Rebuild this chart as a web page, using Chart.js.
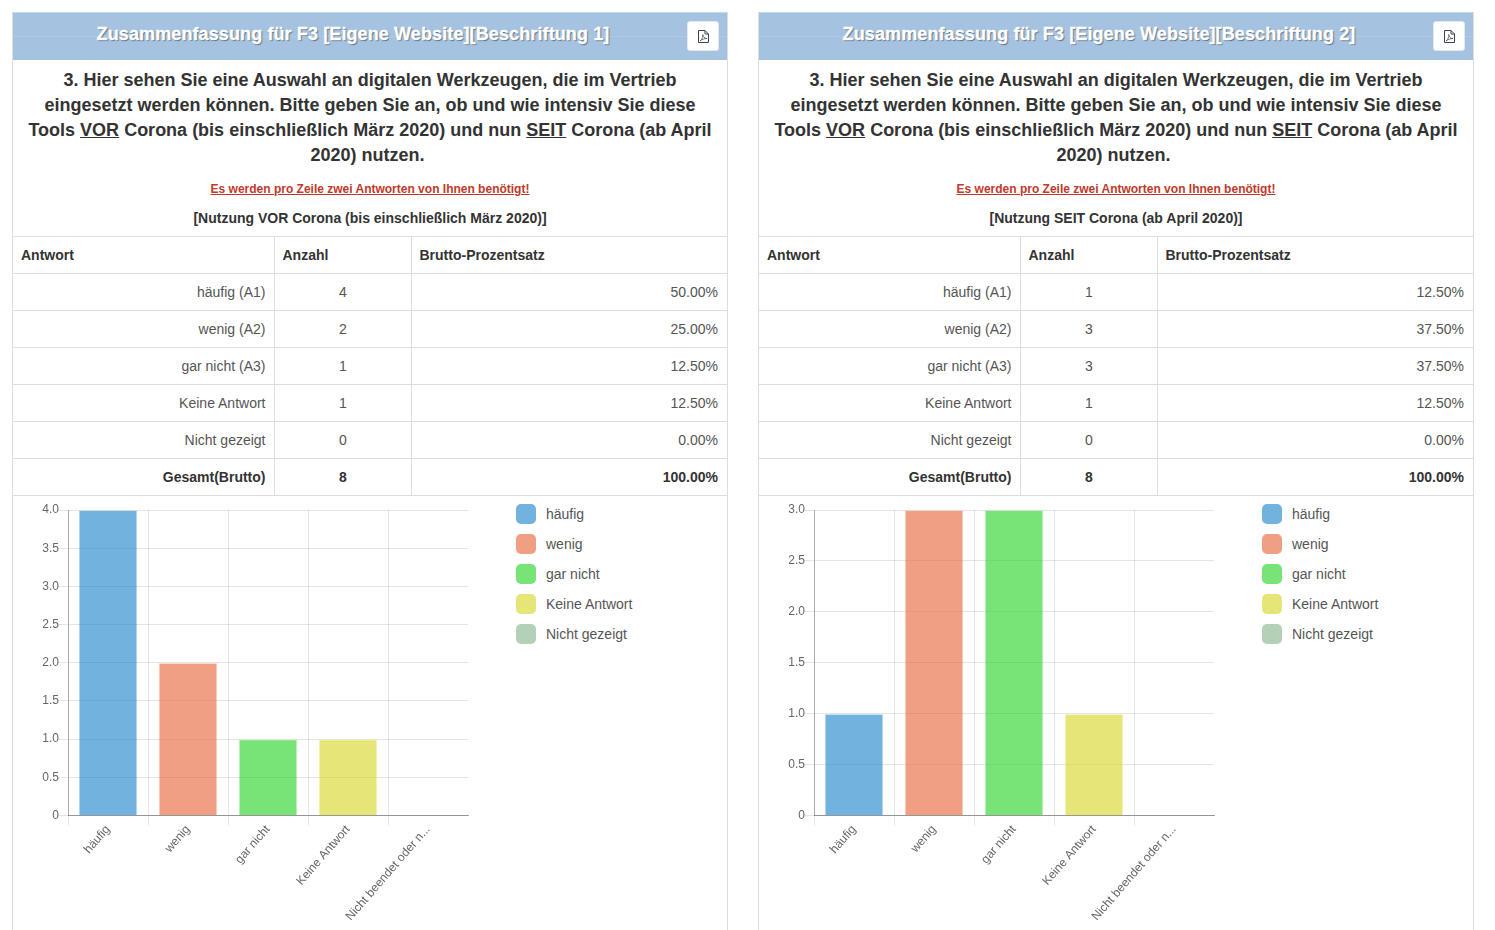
<!DOCTYPE html>
<html lang="de"><head><meta charset="utf-8"><title>Zusammenfassung F3</title>
<script src="https://cdn.jsdelivr.net/npm/chart.js@4"></script>
<style>
html,body{margin:0;padding:0;background:#fff;overflow:hidden;width:1495px;height:930px;font-family:"Liberation Sans",Arial,sans-serif;color:#333}
.panel{position:absolute;top:12px;width:714px;height:930px;border:1px solid #ddd;border-top:1px solid #c9d6e6;box-sizing:content-box}
.head{position:absolute;left:0;top:0;width:714px;height:47px;background:#a5c2e1}
.head em{position:absolute;left:0;width:680px;top:0;text-align:center;font-style:normal;color:#fff;font-size:18px;font-weight:bold;line-height:42px;letter-spacing:.11px;-webkit-text-stroke:.3px #fff;text-shadow:1px 1px 1px rgba(0,0,0,.45)}
.head i{position:absolute;left:0;right:0;top:23px;height:1px;background:rgba(255,255,255,.12)}
.btn{position:absolute;left:674px;top:8px;width:32px;height:30px;background:#fff;border:1px solid #e4e8ec;box-sizing:border-box;border-radius:3px}
.btn svg{position:absolute;left:10px;top:8px}
.q{position:absolute;left:10px;width:694px;top:55px;text-align:center;font-size:18px;font-weight:bold;line-height:25px;color:#333}
.req{position:absolute;left:0;width:714px;top:169px;text-align:center;font-size:12px;font-weight:bold;color:#c0392b;text-decoration:underline;line-height:14px}
.sub{position:absolute;left:0;width:714px;top:197px;text-align:center;font-size:14px;font-weight:bold;color:#333;line-height:16px}
table{position:absolute;left:0;top:223px;width:715px;border-collapse:collapse;table-layout:fixed;font-size:14px;color:#555}
td,th{height:37px;padding:0 10px 0 8px;box-sizing:border-box;border:1px solid #ddd;line-height:16px}
tr>*:first-child{border-left:0}tr>*:last-child{border-right:0}
th{text-align:left;color:#333}
td:nth-child(1){text-align:right;padding-right:8px}td:nth-child(2){text-align:center;padding:0 8px 0 9px}td:nth-child(3){text-align:right}
tr.t td{font-weight:bold;color:#333}
.cw{position:absolute;left:0;top:484px;width:470px;height:434px}
.lg{position:absolute;left:503px;top:491px;font-size:14px;color:#555}
.lg div{position:relative;height:30px;line-height:20px;padding-left:30px;white-space:nowrap;top:0}
.lg b{position:absolute;left:0;top:0;width:20px;height:20px;border-radius:5px}
</style></head><body>
<script>
const titles = ["Zusammenfassung für F3 [Eigene Website][Beschriftung 1]","Zusammenfassung für F3 [Eigene Website][Beschriftung 2]"];
const subtitles = ["[Nutzung VOR Corona (bis einschließlich März 2020)]","[Nutzung SEIT Corona (ab April 2020)]"];
const questionHtml = '3. Hier sehen Sie eine Auswahl an digitalen Werkzeugen, die im Vertrieb eingesetzt werden können. Bitte geben Sie an, ob und wie intensiv Sie diese Tools <u>VOR</u> Corona (bis einschließlich März 2020) und nun <u>SEIT</u> Corona (ab April 2020) nutzen.&nbsp;';
const requiredNote = "Es werden pro Zeile zwei Antworten von Ihnen benötigt!";
const tableHeads = ["Antwort","Anzahl","Brutto-Prozentsatz"];
const answers = ["häufig (A1)","wenig (A2)","gar nicht (A3)","Keine Antwort","Nicht gezeigt","Gesamt(Brutto)"];
const counts1 = [4,2,1,1,0,8];
const counts2 = [1,3,3,1,0,8];
const percents1 = ["50.00%","25.00%","12.50%","12.50%","0.00%","100.00%"];
const percents2 = ["12.50%","37.50%","37.50%","12.50%","0.00%","100.00%"];
const categories = ["häufig","wenig","gar nicht","Keine Antwort","Nicht beendet oder n..."];
const legendLabels = ["häufig","wenig","gar nicht","Keine Antwort","Nicht gezeigt"];
const values1 = [4,2,1,1,0];
const values2 = [1,3,3,1,0];
const barColors = ["rgba(20,127,200,.6)","rgba(230,95,50,.6)","rgba(30,210,30,.6)","rgba(212,212,30,.6)","rgba(140,185,145,.65)"];
const barBorders = ["rgba(20,127,200,.12)","rgba(230,95,50,.12)","rgba(30,210,30,.12)","rgba(212,212,30,.12)","rgba(140,185,145,.12)"];
const axisMax = [4,3];
const axisStep = [0.5,0.5];
const panelLeft = [12,758];

const icon='<svg width="11" height="13" viewBox="0 0 11 13" fill="none" stroke="#3a4550" stroke-width="1"><path d="M.5.5h6.500l3.500 3.500v8.500h-10zM7 .5v3.500h3.500"/><path d="M2 11c2-1.500 3-4 2.800-6.500C5 7 6.500 8.500 9 8.500 6.500 8.500 4 9.500 2 11z" stroke-width=".7"/></svg>';

function build(i, values, counts, percents){
  const p=document.createElement('div');p.className='panel';p.style.left=panelLeft[i]+'px';
  let rows=answers.map((a,k)=>`<tr class="${k==answers.length-1?'t':''}"><td>${a}</td><td>${counts[k]}</td><td>${percents[k]}</td></tr>`).join('');
  p.innerHTML=`<div class="head"><i></i><em>${titles[i]}</em><span class="btn">${icon}</span></div>
  <div class="q">${questionHtml}</div><div class="req">${requiredNote}</div><div class="sub">${subtitles[i]}</div>
  <table><colgroup><col style="width:261px"><col style="width:137px"><col></colgroup>
  <tr>${tableHeads.map(h=>`<th>${h}</th>`).join('')}</tr>${rows}</table>
  <div class="cw"><canvas></canvas></div>
  <div class="lg">${legendLabels.map((l,k)=>`<div><b style="background:${barColors[k]}"></b>${l}</div>`).join('')}</div>`;
  document.body.appendChild(p);
  new Chart(p.querySelector('canvas'),{type:'bar',
    data:{labels:categories,datasets:[{data:values,backgroundColor:barColors,borderColor:barBorders,borderWidth:1,barPercentage:.92}]},
    options:{responsive:true,maintainAspectRatio:false,animation:false,
      layout:{padding:{top:13,right:15,left:0,bottom:0}},
      plugins:{legend:{display:false},tooltip:{enabled:false},title:{display:false}},
      scales:{
        x:{grid:{color:c=>c.tick?'rgba(0,0,0,.1)':'transparent',tickLength:10,drawTicks:true},
           border:{display:true,color:'rgba(0,0,0,.35)'},
           afterFit:s=>{s.height=115.5},
           ticks:{color:'#666',font:{size:12,family:'"Liberation Sans",Arial,sans-serif'},maxRotation:49,minRotation:49,autoSkip:false,padding:-3}},
        y:{min:0,max:axisMax[i],beginAtZero:true,
           grid:{color:'rgba(0,0,0,.1)',tickLength:10},
           border:{display:true,color:'rgba(0,0,0,.25)'},
           afterFit:s=>{s.width=55},
           ticks:{color:'#666',stepSize:axisStep[i],font:{size:12,family:'"Liberation Sans",Arial,sans-serif'},padding:-1,
             callback:v=>v===0?'0':v.toFixed(1)}}
      }}});
}
build(0,values1,counts1,percents1);
build(1,values2,counts2,percents2);
</script></body></html>
